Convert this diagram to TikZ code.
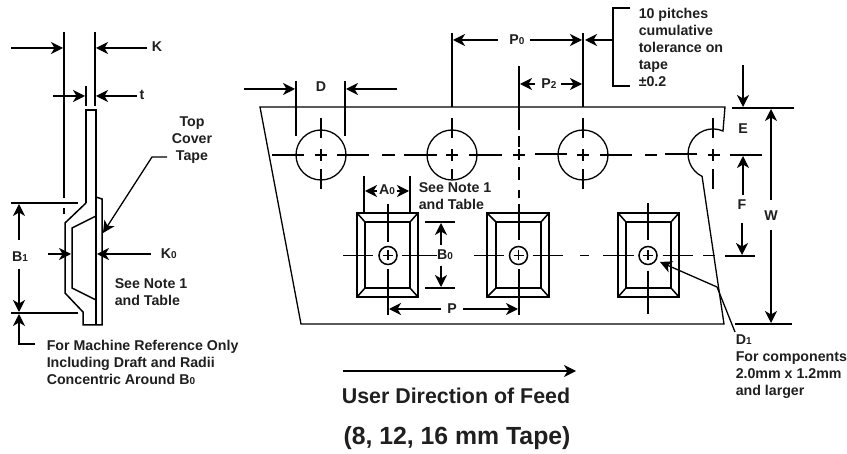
\documentclass[tikz,border=0pt]{standalone}
\usepackage{fontspec}
\setmainfont{Liberation Sans}
\usetikzlibrary{arrows.meta}

\newcommand{\lowidx}[1]{{\fontsize{10}{10}\selectfont #1}}

\begin{document}
\begin{tikzpicture}[x=1pt,y=-1pt,
  line width=1.5pt,
  dimarrow/.style={-{Stealth[length=12pt,width=12pt,inset=3.5pt]},line width=1.3pt},
  label/.style={inner sep=0pt,font=\fontsize{14.2}{17}\selectfont\bfseries,text=black!88},
  note/.style={label,anchor=west,align=left},
  thinline/.style={line width=1.3pt}]
\useasboundingbox (0,0) rectangle (847,454);

%side view
\draw (86,203) -- (86,110) -- (96,110) -- (96,325);
\draw (86,203) -- (65,223) -- (65,293) -- (83,312) -- (83,325) -- (102,325) -- (102,199) -- (96,197);
\draw (96,216) -- (72,228) -- (72,288) -- (96,300);

\draw (64,32) -- (64,198);
\draw (64,208) -- (64,214);
\draw (95,32) -- (95,106);
\draw (86,86) -- (86,106);
\draw[dimarrow] (11,48) -- (63,48);
\draw[dimarrow] (147,48) -- (96,48);
\draw[dimarrow] (53,96) -- (85,96);
\draw[dimarrow] (137,96) -- (96,96);
\node[label] (kside) at (157,47) {K};
\node[label] (tside) at (142,95) {t};

\node[label,align=center] (cover) at (192,140) {Top\\Cover\\Tape};
\draw[dimarrow] (167,157) -- (152,157) -- (103,233);

\draw (11,203) -- (78,203);
\draw (11,313) -- (78,313);
\draw[dimarrow] (19,240) -- (19,204);
\draw[dimarrow] (19,269) -- (19,312);
\node[label] (bone) at (20,257) {B\lowidx{1}};
\draw[dimarrow] (35,344) -- (19,344) -- (19,314);
\draw[dimarrow] (48,254) -- (71,254);
\draw[dimarrow] (151,254) -- (97,254);
\node[label,anchor=west] (kzero) at (160,254) {K\lowidx{0}};
\node[note] (seeside) at (114,292.5) {See Note 1\\and Table};
\node[note] (machine) at (46,362.5) {For Machine Reference Only\\Including Draft and Radii\\Concentric Around B\lowidx{0}};

%tape outline
\draw[thinline] (260,107) -- (725,107) -- (723,131) arc[start angle=66.5,end angle=244,radius=25pt] -- (724,324) -- (301,324) -- cycle;

%sprocket holes
\draw[thinline] (321,155) circle (25pt);
\draw[thinline] (452,155) circle (25pt);
\draw[thinline] (583,155) circle (25pt);

\draw (321,118) -- (321,138);
\draw (321,149) -- (321,161);
\draw (321,169) -- (321,189);
\draw (452,118) -- (452,138);
\draw (452,149) -- (452,161);
\draw (452,169) -- (452,179);
\draw (583,118) -- (583,138);
\draw (583,149) -- (583,161);
\draw (583,169) -- (583,189);
\draw (713,118) -- (713,138);
\draw (713,149) -- (713,161);
\draw (713,169) -- (713,189);

\draw (272,155) -- (304,155);
\draw (315,155) -- (327,155);
\draw (337,155) -- (369,155);
\draw (382,155) -- (395,155);
\draw (404,155) -- (437,155);
\draw (446,155) -- (458,155);
\draw (469,155) -- (502,155);
\draw (513,155) -- (525,155);
\draw (535,154) -- (567,154);
\draw (577,155) -- (589,155);
\draw (600,155) -- (632,155);
\draw (645,155) -- (657,155);
\draw (665,154) -- (697,154);
\draw (708,155) -- (720,155);

%pockets
\draw (357,213) rectangle (418,297);
\draw (365,222) rectangle (410,288);
\draw (357,213) -- (365,222);
\draw (418,213) -- (410,222);
\draw (357,297) -- (365,288);
\draw (418,297) -- (410,288);
\draw (388,255.5) circle (9pt);
\draw (383,255.5) -- (393,255.5);
\draw (388,250.5) -- (388,260.5);
\draw (388,204) -- (388,242);
\draw (388,269) -- (388,315);
\draw (343,255.5) -- (373,255.5);
\draw (402,255.5) -- (437,255.5);

\draw (487,213) rectangle (549,297);
\draw (496,222) rectangle (541,288);
\draw (487,213) -- (496,222);
\draw (549,213) -- (541,222);
\draw (487,297) -- (496,288);
\draw (549,297) -- (541,288);
\draw (518.5,255.5) circle (9pt);
\draw (513.5,255.5) -- (523.5,255.5);
\draw (518.5,250.5) -- (518.5,260.5);
\draw (519,204) -- (519,240);
\draw (519,269) -- (519,315);
\draw (474,255.5) -- (504,255.5);
\draw (533,255.5) -- (563,255.5);
\draw (580,255.5) -- (589,255.5);

\draw (618,213) rectangle (679,297);
\draw (626,222) rectangle (671,288);
\draw (618,213) -- (626,222);
\draw (679,213) -- (671,222);
\draw (618,297) -- (626,288);
\draw (679,297) -- (671,288);
\draw (648,255.5) circle (9pt);
\draw (643,255.5) -- (653,255.5);
\draw (648,250.5) -- (648,260.5);
\draw (648,203) -- (648,240);
\draw (648,271) -- (648,314);
\draw (603,255.5) -- (634,255.5);
\draw (663,255.5) -- (693,255.5);
\draw (703,255.5) -- (715,255.5);

%pitch line through the middle pocket
\draw (519,66) -- (519,130);
\draw (519,136) -- (519,147);
\draw (519,149) -- (519,160);
\draw (519,167) -- (519,180);
\draw (519,190) -- (519,198);

%dimensions above the tape
\draw (452,33) -- (452,107);
\draw (583,33) -- (583,107);
\draw[dimarrow] (498,40) -- (453,40);
\draw[dimarrow] (530,40) -- (582,40);
\node[label] (pzero) at (517,40) {P\lowidx{0}};
\draw[dimarrow] (613,40) -- (585,40);
\draw (630,8) -- (613,8) -- (613,86) -- (630,86);
\node[note] (pitches) at (638,47) {10 pitches\\cumulative\\tolerance on\\tape\\\textpm0.2};
\draw[dimarrow] (535,84) -- (520,84);
\draw[dimarrow] (561,84) -- (582,84);
\node[label] (ptwo) at (549,84) {P\lowidx{2}};

\draw (296,81) -- (296,136);
\draw (345,81) -- (345,136);
\draw[dimarrow] (244,89) -- (295,89);
\draw[dimarrow] (397,89) -- (346,89);
\node[label] (dhole) at (321,87) {D};

%dimensions on the pockets
\draw (364,176) -- (364,212);
\draw (410,176) -- (410,212);
\draw[dimarrow] (377,191) -- (365,191);
\draw[dimarrow] (397,191) -- (409,191);
\node[label] (azero) at (387,190) {A\lowidx{0}};
\node[note] (seetape) at (418,196) {See Note 1\\and Table};

\draw (425,222) -- (455,222);
\draw (425,288) -- (455,288);
\draw[dimarrow] (441,245) -- (441,223);
\draw[dimarrow] (441,266) -- (441,287);
\node[label] (bzero) at (445,254.5) {B\lowidx{0}};

\draw[dimarrow] (441,309) -- (389,309);
\draw[dimarrow] (463,309) -- (518,309);
\node[label] (ppitch) at (452,309) {P};

%dimensions right of the tape
\draw (732,108) -- (794,108);
\draw (730,155) -- (762,155);
\draw (725,256) -- (755,256);
\draw[line width=1.7pt] (735,324) -- (792,324);
\draw[dimarrow] (743,65) -- (743,107);
\draw[dimarrow] (743,195) -- (743,156);
\node[label] (ehole) at (743,129) {E};
\draw[dimarrow] (742,223) -- (742,255);
\node[label] (ffoot) at (742,205) {F};
\draw[dimarrow] (771,200) -- (771,109);
\draw[dimarrow] (771,230) -- (771,323);
\node[label] (wtape) at (771,216) {W};

\draw[dimarrow] (735,332) -- (717,287) -- (660,262);
\node[note] (done) at (735,367) {D\lowidx{1}\\For components\\2.0mm x 1.2mm\\and larger};

%feed direction
\draw[dimarrow] (343,371) -- (576,371);
\node[label,font=\fontsize{21.4}{24}\selectfont\bfseries] (feed) at (456,396) {User Direction of Feed};
\node[label,font=\fontsize{24.8}{26}\selectfont\bfseries] (tape) at (457,438) {(8, 12, 16 mm Tape)};
\end{tikzpicture}
\end{document}
